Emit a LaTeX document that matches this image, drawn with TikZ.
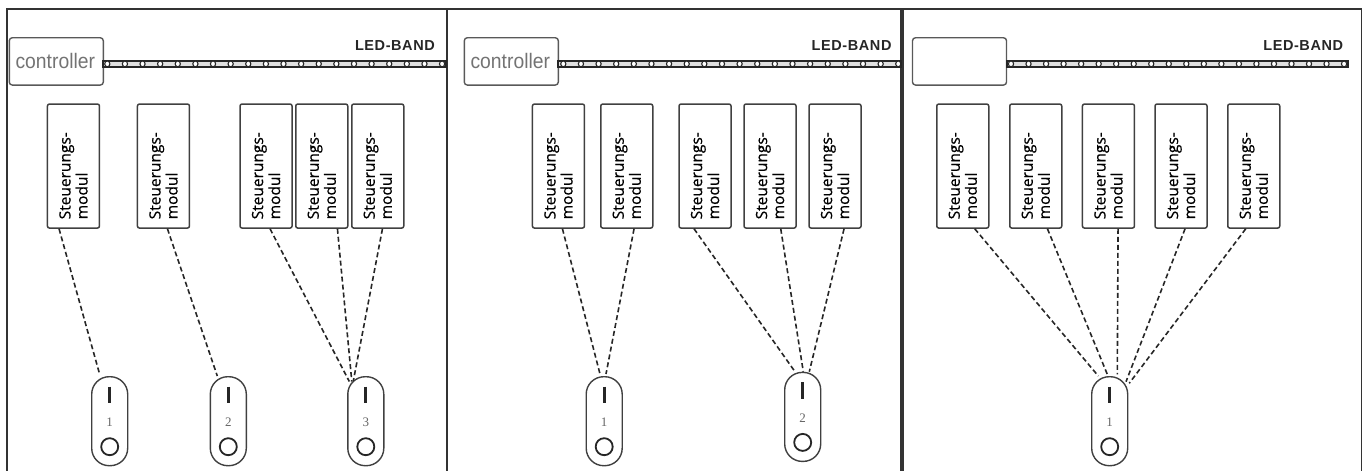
\documentclass[tikz,border=0pt]{standalone}
\usepackage{fontspec}
\setmainfont{Liberation Serif}
\newfontfamily\ctrlf{Liberation Sans}
\newfontfamily\modf[FakeBold=0.6]{Open Sans}
\newfontfamily\ledf[LetterSpace=4]{Liberation Sans}
\tikzset{
  frame/.style={draw=black!80, line width=1.8pt},
  ctrl/.style={draw=black!65, line width=1.4pt, rounded corners=3pt, minimum width=94pt, minimum height=47.3pt, inner sep=0pt},
  ctrltext/.style={text=black!55, font=\ctrlf\fontsize{21}{24}\selectfont, inner sep=0pt, xscale=0.92},
  ledtext/.style={text=black!85, font=\ledf\bfseries\fontsize{14.5}{18}\selectfont, anchor=east, inner sep=0pt},
  band/.style={draw=black!85, line width=1.8pt, fill=black!12},
  led/.style={draw=black!85, fill=white, line width=1.1pt},
  modbox/.style={draw=black!75, line width=1.5pt, rounded corners=2pt, minimum width=52pt, minimum height=124pt, inner sep=0pt, anchor=north west},
  modtext/.style={rotate=90, anchor=west, align=left, font=\modf\fontsize{15.5}{17}\selectfont, inner sep=0pt},
  switchbox/.style={draw=black!75, line width=1.4pt, rounded corners=17.5pt, minimum width=36pt, minimum height=89pt, inner sep=0pt, anchor=north},
  swbar/.style={line width=3pt, draw=black!85},
  swnum/.style={text=black!60, font=\fontsize{13}{15}\selectfont, inner sep=0pt},
  knob/.style={circle, draw=black!85, line width=1.8pt, minimum size=17pt, inner sep=0pt},
  link/.style={draw=black!85, line width=1.6pt, dash pattern=on 5pt off 3pt},
}
\newcommand\modul[2]{%
  \node[modbox] (#1) at (#2,103.3) {};
  \node[modtext] (#1t) at ([yshift=9.3pt]#1.south) {Steuerungs-\\modul};
}
\newcommand\switchunit[4]{%
  \node[switchbox] (#1) at (#2,#3) {};
  \node[inner sep=0pt] (#1a) at ([yshift=-10.7pt]#1.north) {};
  \node[inner sep=0pt] (#1b) at ([yshift=-27.3pt]#1.north) {};
  \draw[swbar] (#1a.center) -- (#1b.center);
  \node[swnum] (#1n) at ([yshift=-1pt]#1.center) {#4};
  \node[knob] (#1k) at ([yshift=-70.7pt]#1.north) {};
}
\begin{document}
\begin{tikzpicture}[x=1pt,y=-1pt]
\useasboundingbox (0,0) rectangle (1366,471);
% frames
\draw[frame] (6.7,471) -- (6.7,9.3) -- (446.7,9.3) -- (446.7,471);
\draw[frame] (446.7,9.3) -- (901.3,9.3) -- (901.3,471);
\draw[frame] (902.7,471) -- (902.7,9.3) -- (1361.5,9.3) -- (1361.5,471);

% ---------- panel 1 ----------
\node[ctrl] (c1) at (56.3,61.4) {};
\node[ctrltext] (c1t) at (55.3,61.4) {controller};
\draw[band] (103.3,60.6) rectangle (446.2,67.2);
\foreach \i in {0,...,19} \draw[led] (107.3+\i*17.62,63.9) ellipse [x radius=2.6pt, y radius=2.9pt];
\node[ledtext] (l1) at (435,45.5) {LED-BAND};

\modul{m11}{46.7}
\modul{m12}{136.7}
\modul{m13}{239.3}
\modul{m14}{295}
\modul{m15}{351}

\switchunit{s11}{109.7}{376}{1}
\switchunit{s12}{228.3}{376}{2}
\switchunit{s13}{365.8}{376}{3}

\draw[link] ([xshift=-14.4pt]m11.south) -- ([xshift=-10.4pt,yshift=3pt]s11.north);
\draw[link] ([xshift=4pt]m12.south) -- ([xshift=-11pt,yshift=0pt]s12.north);
\draw[link] ([xshift=4pt]m13.south) -- ([xshift=-16.5pt,yshift=-5.5pt]s13.north);
\draw[link] ([xshift=15.7pt]m14.south) -- ([xshift=-14pt,yshift=-5.5pt]s13.north);
\draw[link] ([xshift=4.7pt]m15.south) -- ([xshift=-12.5pt,yshift=-5pt]s13.north);

% ---------- panel 2 ----------
\node[ctrl] (c2) at (511.3,61.4) {};
\node[ctrltext] (c2t) at (510.3,61.4) {controller};
\draw[band] (558.3,60.6) rectangle (900.8,67.2);
\foreach \i in {0,...,19} \draw[led] (563.3+\i*17.63,63.9) ellipse [x radius=2.6pt, y radius=2.9pt];
\node[ledtext] (l2) at (891.7,45.5) {LED-BAND};

\modul{m21}{531.7}
\modul{m22}{600}
\modul{m23}{678.3}
\modul{m24}{743.3}
\modul{m25}{808.3}

\switchunit{s21}{604.2}{376}{1}
\switchunit{s22}{802.7}{371.7}{2}

\draw[link] ([xshift=4pt]m21.south) -- ([xshift=-4.2pt,yshift=2pt]s21.north);
\draw[link] ([xshift=7.3pt]m22.south) -- ([xshift=1.8pt,yshift=2pt]s21.north);
\draw[link] ([xshift=-11pt]m23.south) -- ([xshift=-7.7pt,yshift=0pt]s22.north);
\draw[link] ([xshift=10.7pt]m24.south) -- ([xshift=0.6pt,yshift=0pt]s22.north);
\draw[link] ([xshift=9pt]m25.south) -- ([xshift=6.6pt,yshift=0pt]s22.north);

% ---------- panel 3 ----------
\node[ctrl] (c3) at (959.5,61.4) {};
\draw[band] (1006.7,60.6) rectangle (1348.3,67.2);
\foreach \i in {0,...,19} \draw[led] (1011+\i*17.53,63.9) ellipse [x radius=2.6pt, y radius=2.9pt];
\node[ledtext] (l3) at (1343.3,45.5) {LED-BAND};

\modul{m31}{936}
\modul{m32}{1009}
\modul{m33}{1081.7}
\modul{m34}{1154.3}
\modul{m35}{1227}

\switchunit{s31}{1109.7}{376}{1}

\draw[link] ([xshift=12pt]m31.south) -- ([xshift=-11.4pt,yshift=0pt]s31.north);
\draw[link] ([xshift=11.7pt]m32.south) -- ([xshift=-2.4pt,yshift=1.7pt]s31.north);
\draw[link] ([xshift=9.6pt]m33.south) -- ([xshift=7.6pt,yshift=1.7pt]s31.north);
\draw[link] ([xshift=4pt]m34.south) -- ([xshift=16.3pt,yshift=-5.7pt]s31.north);
\draw[link] ([xshift=-8pt]m35.south) -- ([xshift=19.5pt,yshift=-7.3pt]s31.north);
\end{tikzpicture}
\end{document}
